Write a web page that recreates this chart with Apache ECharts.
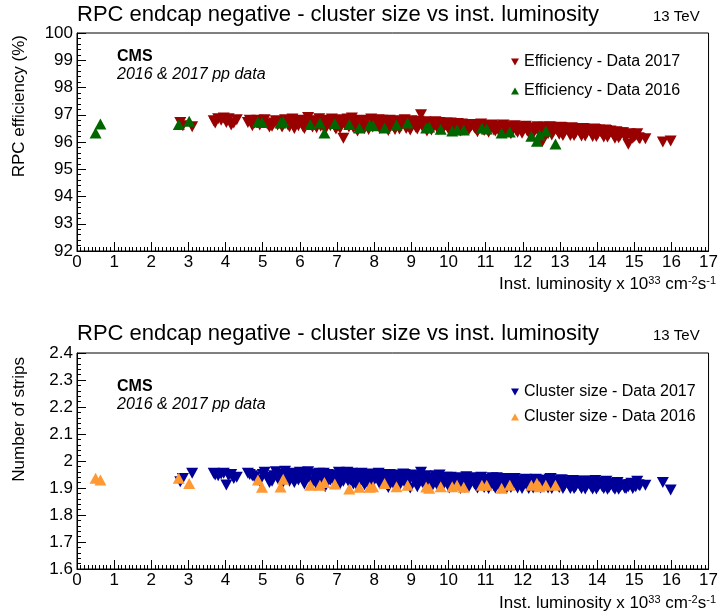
<!DOCTYPE html>
<html>
<head>
<meta charset="utf-8">
<script src="https://cdn.jsdelivr.net/npm/echarts@6/dist/echarts.min.js"></script>
<style>
html,body{margin:0;padding:0;background:#fff;}
#c{width:721px;height:616px;}
</style>
</head>
<body>
<div id="c"></div>
<script>
// ---- data ----
var xTicks = [0,1,2,3,4,5,6,7,8,9,10,11,12,13,14,15,16,17];

var lum2017 = [2.78,2.85,3.10,3.68,3.80,3.95,4.02,4.15,4.30,4.60,4.72,4.85,5.00,5.12,5.25,5.35,5.45,5.52,5.60,5.68,5.75,5.85,5.92,6.00,6.08,6.15,6.22,6.30,6.38,6.45,6.52,6.60,6.68,6.75,6.82,6.90,6.97,7.05,7.12,7.17,7.25,7.32,7.40,7.48,7.55,7.62,7.70,7.78,7.85,7.92,8.00,8.08,8.15,8.22,8.30,8.38,8.45,8.52,8.60,8.68,8.75,8.82,8.90,8.97,9.05,9.12,9.20,9.26,9.35,9.42,9.50,9.58,9.65,9.72,9.80,9.88,9.95,10.02,10.10,10.18,10.25,10.32,10.40,10.48,10.55,10.62,10.70,10.78,10.85,10.92,11.00,11.08,11.15,11.22,11.30,11.38,11.45,11.52,11.60,11.68,11.75,11.82,11.90,11.98,12.05,12.12,12.20,12.28,12.35,12.42,12.53,12.60,12.68,12.75,12.82,12.90,12.98,13.05,13.12,13.20,13.28,13.35,13.42,13.50,13.58,13.65,13.72,13.80,13.88,13.95,14.02,14.10,14.18,14.25,14.32,14.40,14.48,14.55,14.62,14.70,14.78,14.84,14.92,15.00,15.08,15.15,15.30,15.77,15.98];

var eff2017 = [96.72,96.60,96.56,96.78,96.85,96.88,96.72,96.62,96.82,96.72,96.60,96.80,96.74,96.66,96.58,96.78,96.70,96.55,96.82,96.62,96.74,96.50,96.68,96.80,96.58,96.72,96.90,96.62,96.78,96.52,96.85,96.66,96.45,96.80,96.60,96.74,96.48,96.82,96.62,96.14,96.76,96.55,96.88,96.64,96.40,96.78,96.58,96.70,96.46,96.84,96.62,96.74,96.50,96.80,96.60,96.42,96.72,96.56,96.78,96.48,96.68,96.82,96.58,96.44,96.70,96.54,96.76,97.00,96.60,96.40,96.68,96.52,96.74,96.46,96.64,96.56,96.70,96.42,96.62,96.50,96.68,96.40,96.58,96.64,96.46,96.60,96.52,96.38,96.62,96.48,96.56,96.36,96.60,96.44,96.54,96.34,96.58,96.46,96.52,96.30,96.56,96.42,96.50,96.32,96.54,96.40,96.48,96.30,96.52,96.38,96.02,96.50,96.30,96.54,96.38,96.46,96.28,96.52,96.36,96.46,96.24,96.50,96.32,96.44,96.22,96.48,96.34,96.42,96.20,96.46,96.30,96.38,96.18,96.42,96.28,96.36,96.14,96.32,96.24,96.34,96.16,95.92,96.26,96.20,96.30,96.12,96.12,96.00,96.04];

var cls2017 = [1.923,1.935,1.955,1.955,1.945,1.955,1.911,1.950,1.940,1.955,1.945,1.930,1.950,1.940,1.925,1.960,1.945,1.915,1.962,1.940,1.952,1.920,1.945,1.958,1.930,1.948,1.960,1.925,1.950,1.912,1.955,1.935,1.905,1.950,1.930,1.945,1.915,1.958,1.935,1.925,1.950,1.920,1.955,1.938,1.905,1.948,1.925,1.945,1.910,1.952,1.930,1.945,1.915,1.950,1.928,1.902,1.942,1.922,1.948,1.908,1.935,1.950,1.918,1.900,1.940,1.920,1.945,1.958,1.925,1.902,1.938,1.915,1.945,1.905,1.932,1.918,1.940,1.900,1.930,1.912,1.938,1.898,1.925,1.942,1.905,1.932,1.915,1.900,1.935,1.910,1.925,1.898,1.930,1.908,1.938,1.900,1.925,1.912,1.935,1.902,1.928,1.910,1.922,1.898,1.930,1.908,1.925,1.900,1.932,1.912,1.905,1.928,1.900,1.935,1.910,1.925,1.902,1.930,1.908,1.920,1.898,1.928,1.905,1.918,1.898,1.925,1.908,1.922,1.896,1.928,1.905,1.918,1.898,1.925,1.902,1.915,1.895,1.920,1.905,1.912,1.898,1.905,1.918,1.910,1.925,1.908,1.910,1.920,1.893];

// more 2017 runs (same order in the three arrays)
var lum2017b = [3.72,3.88,4.08,4.22,4.65,4.78,4.92,5.05,5.18,5.30,5.40,5.58,5.72,5.80,5.96,6.04,6.12,6.26,6.34,6.42,6.56,6.64,6.72,6.86,6.94,7.02,7.08,7.20,7.28,7.36,7.44,7.52,7.58,7.66,7.74,7.82,7.88,7.96,8.04,8.12,8.18,8.26,8.34,8.42,8.48,8.56,8.64,8.72,8.78,8.86,8.94,9.00,9.08,9.16,9.24,9.30,9.38,9.46,9.54,9.62,9.68,9.76,9.84,9.92,9.98,10.06,10.14,10.22,10.28,10.36,10.44,10.52,10.58,10.66,10.74,10.82,10.88,10.96,11.04,11.12,11.18,11.26,11.34,11.42,11.48,11.56,11.64,11.72,11.78,11.86,11.94,12.02,12.08,12.16,12.24,12.32,12.40,12.48,12.56,12.64,12.72,12.78,12.86,12.94,13.02,13.08,13.16,13.24,13.32,13.38,13.46,13.54,13.62,13.68,13.76,13.84,13.92,13.98,14.06,14.14,14.22,14.28,14.36,14.44,14.52,14.58,14.66,14.74,14.88,14.96,15.04,15.12];
var eff2017b = [96.70,96.80,96.85,96.70,96.80,96.70,96.62,96.82,96.55,96.70,96.62,96.74,96.56,96.84,96.60,96.70,96.50,96.76,96.55,96.70,96.58,96.78,96.62,96.84,96.56,96.70,96.50,96.66,96.84,96.68,96.52,96.74,96.60,96.80,96.50,96.66,96.76,96.55,96.68,96.82,96.60,96.70,96.52,96.80,96.64,96.46,96.70,96.58,96.76,96.50,96.66,96.78,96.62,96.48,96.70,96.56,96.74,96.60,96.44,96.66,96.58,96.72,96.50,96.62,96.56,96.70,96.46,96.60,96.52,96.66,96.44,96.62,96.54,96.64,96.48,96.56,96.66,96.42,96.60,96.50,96.62,96.40,96.56,96.50,96.62,96.38,96.54,96.48,96.60,96.36,96.52,96.46,96.58,96.34,96.50,96.44,96.56,96.30,96.54,96.40,96.56,96.26,96.50,96.40,96.54,96.24,96.50,96.38,96.52,96.24,96.48,96.36,96.50,96.22,96.46,96.34,96.48,96.20,96.44,96.30,96.44,96.18,96.40,96.26,96.38,96.16,96.34,96.22,96.30,96.14,96.24,96.16];
var cls2017b = [1.948,1.952,1.945,1.935,1.950,1.940,1.925,1.958,1.920,1.945,1.935,1.950,1.925,1.955,1.930,1.948,1.915,1.952,1.922,1.942,1.925,1.955,1.935,1.948,1.922,1.940,1.915,1.945,1.958,1.932,1.915,1.950,1.930,1.955,1.912,1.940,1.948,1.920,1.938,1.955,1.925,1.942,1.912,1.950,1.930,1.905,1.945,1.925,1.952,1.910,1.938,1.948,1.928,1.905,1.942,1.920,1.945,1.928,1.902,1.935,1.918,1.948,1.908,1.930,1.922,1.940,1.905,1.928,1.915,1.935,1.902,1.930,1.918,1.938,1.908,1.925,1.940,1.902,1.932,1.915,1.938,1.900,1.928,1.918,1.935,1.898,1.925,1.915,1.935,1.900,1.925,1.912,1.932,1.898,1.922,1.910,1.930,1.900,1.925,1.912,1.932,1.898,1.920,1.910,1.930,1.898,1.922,1.910,1.928,1.898,1.920,1.908,1.926,1.896,1.918,1.905,1.925,1.896,1.915,1.905,1.922,1.895,1.912,1.902,1.918,1.895,1.910,1.900,1.912,1.898,1.905,1.912];

var lum2016 = [0.50,0.63,2.74,3.02,4.87,4.98,5.48,5.55,6.28,6.54,6.66,6.94,7.33,7.60,7.88,7.97,8.28,8.60,8.90,9.40,9.48,9.79,10.10,10.23,10.41,10.90,11.03,11.43,11.65,12.23,12.38,12.45,12.62,12.88];
var eff2016 = [96.33,96.66,96.64,96.76,96.73,96.72,96.70,96.74,96.64,96.70,96.33,96.68,96.64,96.51,96.62,96.60,96.51,96.62,96.70,96.51,96.55,96.47,96.40,96.45,96.44,96.51,96.48,96.33,96.37,96.21,96.03,96.26,96.40,95.93];
var cls2016 = [1.936,1.930,1.936,1.917,1.930,1.903,1.904,1.932,1.910,1.910,1.920,1.915,1.896,1.903,1.903,1.905,1.917,1.905,1.910,1.904,1.899,1.905,1.905,1.910,1.903,1.910,1.910,1.899,1.910,1.910,1.918,1.905,1.910,1.910];

var titleText = 'RPC endcap negative - cluster size vs inst. luminosity';
var legendTop = ['Efficiency - Data 2017','Efficiency - Data 2016'];
var legendBot = ['Cluster size - Data 2017','Cluster size - Data 2016'];

function pairs(xs, ys){ return xs.map(function(x,i){ return [x, ys[i]]; }); }

var FONT = 'Liberation Sans, Arial, sans-serif';
var red = '#990000', green = '#006600', blue = '#000099', orange = '#ff9933';
var downTri = 'path://M0,0 L10,0 L5,9 Z';
var upTri = 'path://M5,0 L10,9 L0,9 Z';
var MS = [12,11];

function xAx(gi){
  return {
    type:'value', gridIndex:gi, min:0, max:17, interval:1,
    axisLine:{show:true, lineStyle:{color:'#000', width:1}},
    axisTick:{show:true, inside:true, length:9, lineStyle:{color:'#000'}},
    minorTick:{show:true, splitNumber:10, length:4, lineStyle:{color:'#000'}},
    splitLine:{show:false},
    axisLabel:{color:'#000', fontSize:17, fontFamily:FONT, margin:3,
      formatter:function(v){ return xTicks.indexOf(v)>=0 ? String(v) : ''; }}
  };
}
function yAx(gi, mn, mx, iv, fmt){
  return {
    type:'value', gridIndex:gi, min:mn, max:mx, interval:iv,
    axisLine:{show:true, lineStyle:{color:'#000', width:1}},
    axisTick:{show:true, inside:true, length:9, lineStyle:{color:'#000'}},
    minorTick:{show:true, splitNumber:5, length:4, lineStyle:{color:'#000'}},
    splitLine:{show:false},
    axisLabel:{color:'#000', fontSize:17, fontFamily:FONT, margin:4, formatter:fmt}
  };
}

var chart = echarts.init(document.getElementById('c'), null, {renderer:'canvas'});
var xTitleRich = {
  a:{fontSize:17, fontFamily:FONT, color:'#000'},
  s:{fontSize:11, fontFamily:FONT, color:'#000', verticalAlign:'top', padding:[0,0,8,0]}
};
function xTitle(y){
  return {type:'text', right:5, top:y, style:{
    text:'{a|Inst. luminosity x 10}{s|33}{a| cm}{s|-2}{a|s}{s|-1}',
    rich:xTitleRich, font:'17px '+FONT, fill:'#000'}};
}
chart.setOption({
  animation:false,
  backgroundColor:'#fff',
  grid:[
    {left:77, right:5, top:33, height:218, show:true, borderColor:'#000', borderWidth:1, backgroundColor:'transparent'},
    {left:77, right:5, top:353, height:216, show:true, borderColor:'#000', borderWidth:1, backgroundColor:'transparent'}
  ],
  xAxis:[xAx(0), xAx(1)],
  yAxis:[
    yAx(0, 92, 100, 1, function(v){ return String(v); }),
    yAx(1, 1.6, 2.4, 0.1, function(v){ return String(Math.round(v*10)/10); })
  ],
  legend:[
    {data:[{name:legendTop[0], icon:downTri},{name:legendTop[1], icon:upTri}], left:506, top:49, orient:'vertical',
     itemWidth:8, itemHeight:8, itemGap:13, textStyle:{fontSize:16, fontFamily:FONT, color:'#000'}, selectedMode:false},
    {data:[{name:legendBot[0], icon:downTri},{name:legendBot[1], icon:upTri}], left:506, top:379, orient:'vertical',
     itemWidth:8, itemHeight:8, itemGap:9, textStyle:{fontSize:16, fontFamily:FONT, color:'#000'}, selectedMode:false}
  ],
  series:[
    {name:legendTop[0], type:'scatter', xAxisIndex:0, yAxisIndex:0,
     data:pairs(lum2017, eff2017).concat(pairs(lum2017b, eff2017b)),
     symbol:downTri, symbolSize:MS, itemStyle:{color:red, opacity:1}},
    {name:legendTop[1], type:'scatter', xAxisIndex:0, yAxisIndex:0, data:pairs(lum2016, eff2016),
     symbol:upTri, symbolSize:MS, itemStyle:{color:green, opacity:1}},
    {name:legendBot[0], type:'scatter', xAxisIndex:1, yAxisIndex:1,
     data:pairs(lum2017, cls2017).concat(pairs(lum2017b, cls2017b)),
     symbol:downTri, symbolSize:MS, itemStyle:{color:blue, opacity:1}},
    {name:legendBot[1], type:'scatter', xAxisIndex:1, yAxisIndex:1, data:pairs(lum2016, cls2016),
     symbol:upTri, symbolSize:MS, itemStyle:{color:orange, opacity:1}}
  ],
  graphic:[
    {type:'text', left:77, top:4, style:{text:titleText, font:'22px '+FONT, fill:'#000'}},
    {type:'text', left:653, top:9, style:{text:'13 TeV', font:'15px '+FONT, fill:'#000'}},
    {type:'text', left:117, top:49, style:{text:'CMS', font:'bold 16px '+FONT, fill:'#000'}},
    {type:'text', left:117, top:67, style:{text:'2016 & 2017 pp data', font:'italic 16px '+FONT, fill:'#000'}},
    {type:'text', left:11, top:35, rotation:Math.PI/2, style:{text:'RPC efficiency (%)', font:'17px '+FONT, fill:'#000'}},
    xTitle(275),

    {type:'text', left:77, top:323, style:{text:titleText, font:'22px '+FONT, fill:'#000'}},
    {type:'text', left:653, top:328, style:{text:'13 TeV', font:'15px '+FONT, fill:'#000'}},
    {type:'text', left:117, top:379, style:{text:'CMS', font:'bold 16px '+FONT, fill:'#000'}},
    {type:'text', left:117, top:397, style:{text:'2016 & 2017 pp data', font:'italic 16px '+FONT, fill:'#000'}},
    {type:'text', left:11, top:357, rotation:Math.PI/2, style:{text:'Number of strips', font:'17px '+FONT, fill:'#000'}},
    xTitle(594)
  ]
});
</script>
</body>
</html>
